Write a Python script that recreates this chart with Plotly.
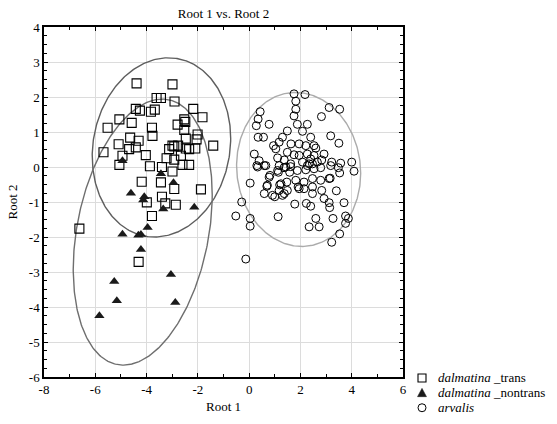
import numpy as np
import plotly.graph_objects as go

# ---- data: dalmatina_trans (open squares)
trans_x = [-4.39, -2.99, -3.61, -3.44, -2.91, -2.18, -4.42, -4.26, -3.83, -3.68,
           -1.82, -5.06, -4.58, -2.53, -2.49, -2.79, -5.52, -3.79, -2.53, -3.77,
           -2.01, -4.64, -4.31, -2.47, -2.05, -5.09, -1.40, -4.42, -4.68, -2.99,
           -2.92, -2.77, -3.12, -2.47, -2.34, -2.10, -5.68, -4.03, -2.66, -4.94,
           -3.22, -2.92, -5.06, -3.87, -2.60, -2.34, -3.40, -2.99, -4.19, -3.44,
           -2.92, -1.88, -3.40, -3.27, -2.86, -3.99, -3.79, -6.62, -4.31]
trans_y = [2.39, 2.36, 1.97, 1.97, 1.87, 1.66, 1.66, 1.61, 1.58, 1.64,
           1.42, 1.36, 1.26, 1.36, 1.29, 1.21, 1.12, 1.12, 1.06, 0.89,
           0.93, 0.84, 0.75, 0.81, 0.79, 0.65, 0.61, 0.56, 0.51, 0.61,
           0.59, 0.61, 0.51, 0.53, 0.51, 0.53, 0.42, 0.34, 0.32, 0.32,
           0.25, 0.21, 0.06, 0.02, 0.06, 0.06, 0.00, -0.13, -0.42, -0.44,
           -0.63, -0.64, -0.85, -1.04, -1.08, -1.01, -1.40, -1.76, -2.71]

# ---- data: dalmatina_nontrans (filled triangles)
nontrans_x = [-4.94, -3.44, -2.95, -4.61, -4.09, -4.13, -3.35, -2.14, -3.96,
              -4.94, -4.32, -4.22, -4.22, -3.05, -5.26, -5.16, -2.88, -5.84]
nontrans_y = [0.18, -0.19, -0.45, -0.75, -0.85, -0.94, -1.20, -1.15, -1.73,
              -1.92, -1.95, -1.93, -2.36, -3.07, -3.27, -3.82, -3.87, -4.25]

# ---- data: arvalis (open circles)
arvalis_x = [1.75, 2.18, 1.82, 1.82, 1.75, 0.43, 0.35, 0.28, 0.78, 1.88,
             2.27, 3.12, 3.53, 2.82, 1.49, 2.08, 2.40, 0.35, 0.56, 1.30,
             1.17, 1.63, 1.95, 2.21, 2.53, 0.95, 1.04, 3.18, 3.50, 2.60,
             0.20, 0.39, 0.30, 0.59, 1.49, 1.75, 1.95, 2.27, 2.53, 1.11,
             1.37, 1.17, 1.62, 2.08, 2.34, 2.66, 2.92, 2.83, 3.22, 3.57,
             4.00, 2.40, 2.47, 0.33, 0.65, 1.11, 1.43, 1.88, 2.27, 2.53,
             2.79, 3.18, 3.48, 3.53, 4.09, 0.04, 0.78, 0.69, 0.59, 1.24,
             1.17, 1.49, 1.47, 1.82, 2.14, 2.47, 2.47, 2.47, 2.14, 1.95,
             0.91, 1.00, 1.37, 2.79, 3.12, 2.83, 2.92, 3.40, 1.78, 2.23,
             2.40, 1.13, 0.04, 0.04, 2.34, 2.73, 2.60, 3.70, 3.12, 3.14,
             3.27, 3.76, 3.87, 3.76, 3.53, 3.22, -0.29, -0.52, -0.13, 1.30,
             1.14, 1.36, 1.62, 2.21, 0.81, 1.58, 3.16, 0.71, 1.91, 1.19]
arvalis_y = [2.09, 2.07, 1.88, 1.65, 1.46, 1.58, 1.37, 1.18, 1.22, 1.22,
             1.22, 1.70, 1.65, 1.44, 1.03, 1.02, 0.85, 0.85, 0.85, 0.85,
             0.71, 0.66, 0.66, 0.61, 0.61, 0.61, 0.52, 0.89, 0.68, 0.54,
             0.37, 0.18, 0.04, 0.04, 0.42, 0.35, 0.33, 0.37, 0.33, 0.26,
             0.20, 0.04, 0.09, 0.14, 0.09, 0.14, 0.37, 0.20, 0.14, 0.11,
             0.14, 0.23, 0.09, 0.00, 0.04, -0.10, 0.00, -0.10, 0.04, -0.05,
             -0.02, 0.04, -0.02, -0.17, -0.12, -0.46, -0.29, -0.55, -0.76, -0.48,
             -0.67, -0.67, -0.43, -0.38, -0.43, -0.33, -0.57, -0.76, -0.62, -0.62,
             -0.81, -0.85, -0.76, -0.38, -0.33, -0.67, -0.90, -0.68, -1.06, -1.04,
             -1.12, -1.42, -1.47, -1.69, -1.71, -1.71, -1.47, -1.02, -1.02, -1.16,
             -1.47, -1.40, -1.47, -1.61, -1.91, -2.15, -1.00, -1.40, -2.63, -0.81,
             -0.15, -0.02, 0.01, -0.08, -0.24, -0.15, -0.32, -0.52, -0.57, -0.51]

# ---- confidence ellipses: centre x, centre y, half-width, half-height, correlation
ell_cx = [-3.42, -4.15, 1.93]
ell_cy = [0.56, -1.86, -0.07]
ell_ax = [2.70, 2.71, 2.42]
ell_by = [2.56, 3.80, 2.20]
ell_r = [0.10, 0.28, -0.05]
ell_colors = ["#5e5e5e", "#6e6e6e", "#ababab"]

x_ticks = [-8, -6, -4, -2, 0, 2, 4, 6]
y_ticks = [-6, -5, -4, -3, -2, -1, 0, 1, 2, 3, 4]

legend_labels = ["<i>dalmatina</i> _trans", "<i>dalmatina</i> _nontrans", "<i>arvalis</i>"]

FONT = "Liberation Serif, Times New Roman, Times, serif"
W, H = 557, 424
ML, MR, MT, MB = 44, 154, 27, 44
PW, PH = W - ML - MR, H - MT - MB

fig = go.Figure()

t = np.linspace(0, 2 * np.pi, 361)
for cx, cy, a, b, r, col in zip(ell_cx, ell_cy, ell_ax, ell_by, ell_r, ell_colors):
    ex = cx + a * np.cos(t)
    ey = cy + b * (r * np.cos(t) + np.sqrt(1 - r * r) * np.sin(t))
    fig.add_trace(go.Scatter(x=ex, y=ey, mode="lines", showlegend=False,
                             line=dict(color=col, width=1.4), hoverinfo="skip"))

fig.add_trace(go.Scatter(x=trans_x, y=trans_y, mode="markers", showlegend=False,
                         name="dalmatina _trans",
                         marker=dict(symbol="square-open", size=9, color="black",
                                     line=dict(width=1.1))))
fig.add_trace(go.Scatter(x=nontrans_x, y=nontrans_y, mode="markers", showlegend=False,
                         name="dalmatina _nontrans",
                         marker=dict(symbol="triangle-up", size=9, color="#1a1a1a",
                                     line=dict(width=0))))
fig.add_trace(go.Scatter(x=arvalis_x, y=arvalis_y, mode="markers", showlegend=False,
                         name="arvalis",
                         marker=dict(symbol="circle-open", size=8, color="black",
                                     line=dict(width=1))))

axis_common = dict(showline=True, linecolor="black", linewidth=1.5, mirror="allticks",
                   ticks="inside", ticklen=4, tickcolor="black", tickwidth=1,
                   showgrid=True, gridcolor="#dcdcdc", gridwidth=1, zeroline=False,
                   tickfont=dict(family=FONT, size=13, color="black"))

fig.update_xaxes(range=[-8, 6], tickvals=x_ticks, ticktext=[str(v) for v in x_ticks],
                 minor=dict(ticks="inside", dtick=1, ticklen=3, tickcolor="black", showgrid=False),
                 title=dict(text="Root 1", font=dict(family=FONT, size=13), standoff=6),
                 **axis_common)
fig.update_yaxes(range=[-6, 4], tickvals=y_ticks, ticktext=[str(v) for v in y_ticks],
                 minor=dict(ticks="inside", dtick=0.25, ticklen=3, tickcolor="black", showgrid=False),
                 title=dict(text="Root 2", font=dict(family=FONT, size=13), standoff=8),
                 **axis_common)

# ---- legend drawn manually (tighter row spacing than plotly's built-in legend)
leg_marker_px = 422
leg_text_px = 436
leg_rows_px = [381, 396, 411]
shapes = []
annotations = []
for i, (label, ypx) in enumerate(zip(legend_labels, leg_rows_px)):
    xa = (leg_marker_px - ML) / PW
    ya = (H - MB - ypx) / PH
    if i == 0:
        shapes.append(dict(type="rect", xref="paper", yref="paper", xsizemode="pixel",
                           ysizemode="pixel", xanchor=xa, yanchor=ya, x0=-4, x1=4, y0=-4, y1=4,
                           line=dict(color="black", width=1.1), fillcolor="rgba(0,0,0,0)"))
    elif i == 1:
        shapes.append(dict(type="path", xref="paper", yref="paper", xsizemode="pixel",
                           ysizemode="pixel", xanchor=xa, yanchor=ya,
                           path="M -4.5,-3.8 L 4.5,-3.8 L 0,4.5 Z",
                           line=dict(color="#1a1a1a", width=0.5), fillcolor="#1a1a1a"))
    else:
        shapes.append(dict(type="circle", xref="paper", yref="paper", xsizemode="pixel",
                           ysizemode="pixel", xanchor=xa, yanchor=ya, x0=-4, x1=4, y0=-4, y1=4,
                           line=dict(color="black", width=1), fillcolor="rgba(0,0,0,0)"))
    annotations.append(dict(text=label, xref="paper", yref="paper",
                            x=(leg_text_px - ML) / PW, y=ya, xanchor="left", yanchor="middle",
                            showarrow=False, font=dict(family=FONT, size=13, color="black")))

fig.update_layout(
    width=W, height=H,
    margin=dict(l=ML, r=MR, t=MT, b=MB),
    plot_bgcolor="white", paper_bgcolor="white",
    font=dict(family=FONT, size=13, color="black"),
    title=dict(text="Root 1 vs. Root 2", x=0.5, xref="paper", xanchor="center",
               y=1 - 13 / H, yref="container", yanchor="middle",
               font=dict(family=FONT, size=13)),
    showlegend=False,
    shapes=shapes,
    annotations=annotations,
)

fig.write_html("out.html")
